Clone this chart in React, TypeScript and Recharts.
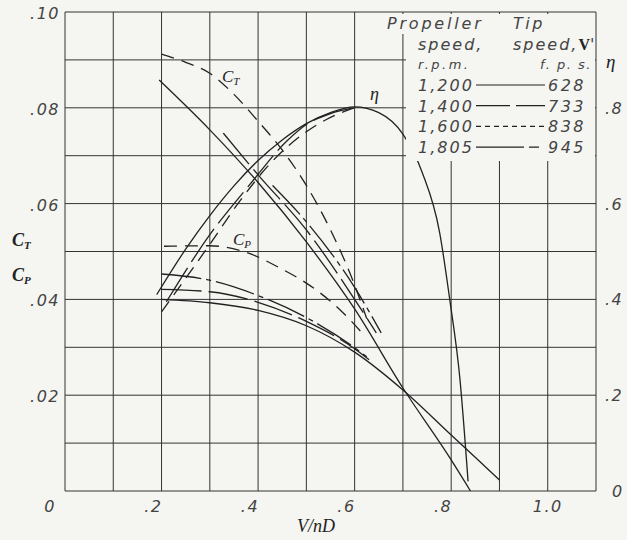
import React from 'react';
import { LineChart, Line, XAxis, YAxis, CartesianGrid } from 'recharts';

// axes
const xTicks = [0, 0.1, 0.2, 0.3, 0.4, 0.5, 0.6, 0.7, 0.8, 0.9, 1.0, 1.1];
const xLabelVals = [0, 0.2, 0.4, 0.6, 0.8, 1.0];
const xLabelText = ['0', '.2', '.4', '.6', '.8', '1.0'];
const coefTicks = [0, 0.01, 0.02, 0.03, 0.04, 0.05, 0.06, 0.07, 0.08, 0.09, 0.1];
const coefLabelVals = [0.02, 0.04, 0.06, 0.08, 0.1];
const coefLabelText = ['.02', '.04', '.06', '.08', '.10'];
const etaTicks = [0, 0.2, 0.4, 0.6, 0.8];
const etaLabelText = ['0', '.2', '.4', '.6', '.8'];

// legend
const rpm = ['1,200', '1,400', '1,600', '1,805'];
const tipSpeed = ['628', '733', '838', '945'];

// thrust coefficient C_T
const ct1200 = [
  { x: 0.195, y: 0.0858 }, { x: 0.3, y: 0.0754 }, { x: 0.4, y: 0.0644 }, { x: 0.5, y: 0.052 },
  { x: 0.6, y: 0.038 }, { x: 0.7, y: 0.0215 }, { x: 0.8, y: 0.0065 }, { x: 0.84, y: 0.0 },
];
const ct1400 = [
  { x: 0.328, y: 0.0747 }, { x: 0.4, y: 0.066 }, { x: 0.5, y: 0.0545 }, { x: 0.6, y: 0.04 }, { x: 0.645, y: 0.033 },
];
const ct1600 = [
  { x: 0.2, y: 0.0912 }, { x: 0.25, y: 0.0895 }, { x: 0.3, y: 0.0872 }, { x: 0.35, y: 0.0828 },
  { x: 0.4, y: 0.0772 }, { x: 0.45, y: 0.0712 }, { x: 0.5, y: 0.0638 }, { x: 0.55, y: 0.0545 },
  { x: 0.6, y: 0.043 }, { x: 0.625, y: 0.036 },
];
const ct1805 = [
  { x: 0.43, y: 0.0638 }, { x: 0.5, y: 0.0562 }, { x: 0.6, y: 0.0425 }, { x: 0.655, y: 0.033 },
];

// power coefficient C_P
const cp1200 = [
  { x: 0.2, y: 0.04 }, { x: 0.3, y: 0.0393 }, { x: 0.4, y: 0.0377 }, { x: 0.5, y: 0.0345 },
  { x: 0.6, y: 0.029 }, { x: 0.7, y: 0.0211 }, { x: 0.8, y: 0.0117 }, { x: 0.9, y: 0.0023 },
];
const cp1400 = [
  { x: 0.2, y: 0.0421 }, { x: 0.3, y: 0.0416 }, { x: 0.4, y: 0.0394 }, { x: 0.5, y: 0.0354 },
  { x: 0.6, y: 0.0297 }, { x: 0.63, y: 0.0274 },
];
const cp1600 = [
  { x: 0.205, y: 0.0511 }, { x: 0.3, y: 0.0512 }, { x: 0.37, y: 0.05 }, { x: 0.45, y: 0.0463 },
  { x: 0.5, y: 0.0434 }, { x: 0.57, y: 0.0378 }, { x: 0.62, y: 0.0325 },
];
const cp1805 = [
  { x: 0.2, y: 0.0453 }, { x: 0.3, y: 0.044 }, { x: 0.4, y: 0.0408 }, { x: 0.5, y: 0.0362 },
  { x: 0.6, y: 0.0299 }, { x: 0.625, y: 0.028 },
];

// efficiency eta
const eta1200 = [
  { x: 0.19, y: 0.41 }, { x: 0.25, y: 0.505 }, { x: 0.3, y: 0.575 }, { x: 0.35, y: 0.637 },
  { x: 0.4, y: 0.69 }, { x: 0.45, y: 0.733 }, { x: 0.5, y: 0.767 }, { x: 0.55, y: 0.79 },
  { x: 0.6, y: 0.802 }, { x: 0.65, y: 0.79 }, { x: 0.7, y: 0.745 }, { x: 0.74, y: 0.665 },
  { x: 0.776, y: 0.54 }, { x: 0.797, y: 0.4 }, { x: 0.818, y: 0.235 }, { x: 0.835, y: 0.02 },
];
const eta1400 = [
  { x: 0.21, y: 0.395 }, { x: 0.3, y: 0.535 }, { x: 0.383, y: 0.64 }, { x: 0.459, y: 0.73 },
  { x: 0.5, y: 0.765 }, { x: 0.55, y: 0.788 }, { x: 0.6, y: 0.8 },
];
const eta1600 = [
  { x: 0.2, y: 0.374 }, { x: 0.3, y: 0.515 }, { x: 0.362, y: 0.605 }, { x: 0.431, y: 0.69 },
  { x: 0.5, y: 0.75 }, { x: 0.55, y: 0.78 }, { x: 0.6, y: 0.8 },
];

const W = 627;
const H = 540;
const PLOT = { top: 12, right: 31, bottom: 49, left: 65 };
const AX = 20; // axis band thickness
const M = { top: PLOT.top, right: PLOT.right - AX, bottom: PLOT.bottom - AX, left: PLOT.left - AX };
const BG = '#f5f5f2';
const INK = '#222';
const TXT = '#444';
const SANS = "'DejaVu Sans', sans-serif";
const SERIF = "'Liberation Serif', 'DejaVu Serif', serif";

const DASH = {
  solid: undefined,
  long: '40 7',
  short: '13 8',
  dashDot: '40 5 5 5',
};

const series = [
  { key: 'ct1200', data: ct1200, axis: 'c', dash: DASH.solid },
  { key: 'ct1400', data: ct1400, axis: 'c', dash: DASH.long },
  { key: 'ct1600', data: ct1600, axis: 'c', dash: DASH.short },
  { key: 'ct1805', data: ct1805, axis: 'c', dash: DASH.dashDot },
  { key: 'cp1200', data: cp1200, axis: 'c', dash: DASH.solid },
  { key: 'cp1400', data: cp1400, axis: 'c', dash: DASH.long },
  { key: 'cp1600', data: cp1600, axis: 'c', dash: DASH.short },
  { key: 'cp1805', data: cp1805, axis: 'c', dash: DASH.dashDot },
  { key: 'eta1200', data: eta1200, axis: 'eta', dash: DASH.solid },
  { key: 'eta1400', data: eta1400, axis: 'eta', dash: DASH.long },
  { key: 'eta1600', data: eta1600, axis: 'eta', dash: DASH.short },
];

const near = (a: number, b: number) => Math.abs(a - b) < 1e-6;
const tickFont = { fontFamily: SANS, fontStyle: 'italic', fontSize: 16, letterSpacing: 1.5, fill: TXT };

function XTick(p: any) {
  const i = xLabelVals.findIndex((v) => near(v, p.payload.value));
  if (i < 0) return <g />;
  const v = xLabelVals[i];
  let x = p.x + 1;
  let anchor = 'end';
  if (v === 0) x = p.x - 9;
  if (v === 1.0) { x = p.x; anchor = 'middle'; }
  return (
    <text x={x} y={H - PLOT.bottom + 21} textAnchor={anchor} {...tickFont}>
      {xLabelText[i]}
    </text>
  );
}

function CoefTick(p: any) {
  const i = coefLabelVals.findIndex((v) => near(v, p.payload.value));
  if (i < 0) return <g />;
  return (
    <text x={PLOT.left - 5} y={p.y + 7} textAnchor="end" {...tickFont}>
      {coefLabelText[i]}
    </text>
  );
}

function EtaTick(p: any) {
  const i = etaTicks.findIndex((v) => near(v, p.payload.value));
  if (i < 0) return <g />;
  const x = W - PLOT.right + (i === 0 ? 16 : 9);
  return (
    <text x={x} y={p.y + 6} textAnchor="start" {...tickFont}>
      {etaLabelText[i]}
    </text>
  );
}

function Overlay() {
  const legendLine = (i: number) => {
    const y = 85 + i * 20.7;
    const dashes = ['', '34 6', '5 4', '48 5 10 50'];
    return (
      <line x1={476} x2={545} y1={y} y2={y} stroke={INK} strokeWidth={1.2} strokeDasharray={dashes[i] || undefined} />
    );
  };
  return (
    <svg width={W} height={H} style={{ position: 'absolute', left: 0, top: 0, pointerEvents: 'none' }}>
      {/* legend panel hides the grid behind it */}
      <rect x={406} y={14} width={189} height={147} fill={BG} />
      <rect x={384} y={14} width={24} height={20} fill={BG} />
      <g fontFamily={SANS} fontStyle="italic" fill={TXT}>
        <text x={387} y={29} fontSize={16} letterSpacing={2.8}>Propeller</text>
        <text x={513} y={29} fontSize={16} letterSpacing={2.5}>Tip</text>
        <text x={418} y={50} fontSize={16} letterSpacing={2}>speed,</text>
        <text x={513} y={50} fontSize={16} letterSpacing={2}>
          speed,
          <tspan fontFamily={SERIF} fontWeight="bold" fontStyle="normal" fill={INK} letterSpacing={0}>V</tspan>
          <tspan>'</tspan>
        </text>
        <text x={418} y={69} fontSize={13} letterSpacing={2.5}>r.p.m.</text>
        <text x={592} y={69} fontSize={13} letterSpacing={1.5} textAnchor="end">f. p. s.</text>
        {rpm.map((r, i) => (
          <text key={r} x={418} y={91 + i * 20.7} fontSize={16} letterSpacing={2}>{r}</text>
        ))}
        {tipSpeed.map((s, i) => (
          <text key={s} x={548} y={91 + i * 20.7} fontSize={16} letterSpacing={2.5}>{s}</text>
        ))}
      </g>
      {[0, 1, 2, 3].map((i) => <g key={i}>{legendLine(i)}</g>)}
      {/* curve labels */}
      <g fontFamily={SERIF} fontStyle="italic" fill={INK}>
        <text x={222} y={82} fontSize={17}>C<tspan fontSize={11} dy={3}>T</tspan></text>
        <text x={233} y={245} fontSize={17}>C<tspan fontSize={11} dy={3}>P</tspan></text>
        <text x={370} y={100} fontSize={18}>η</text>
        <text x={606} y={68} fontSize={19}>η</text>
        <text x={12} y={246} fontSize={18} fontWeight="bold">C<tspan fontSize={11} dy={3}>T</tspan></text>
        <text x={12} y={281} fontSize={18} fontWeight="bold">C<tspan fontSize={11} dy={3}>P</tspan></text>
        <text x={316} y={532} fontSize={18} textAnchor="middle">V/nD</text>
      </g>
    </svg>
  );
}

export default function App() {
  return (
    <div style={{ position: 'absolute', left: 0, top: 0, width: W, height: H, background: BG }}>
      <LineChart width={W} height={H} margin={M}>
        <CartesianGrid stroke="#333" strokeWidth={1} yAxisId="c" />
        <XAxis
          type="number"
          dataKey="x"
          domain={[0, 1.1]}
          ticks={xTicks}
          allowDataOverflow
          height={AX}
          axisLine={false}
          tickLine={false}
          tick={XTick}
          interval={0}
        />
        <YAxis
          yAxisId="c"
          type="number"
          domain={[0, 0.1]}
          ticks={coefTicks}
          allowDataOverflow
          width={AX}
          axisLine={false}
          tickLine={false}
          tick={CoefTick}
          interval={0}
        />
        <YAxis
          yAxisId="eta"
          orientation="right"
          type="number"
          domain={[0, 1]}
          ticks={etaTicks}
          allowDataOverflow
          width={AX}
          axisLine={false}
          tickLine={false}
          tick={EtaTick}
          interval={0}
        />
        {series.map((s) => (
          <Line
            key={s.key}
            data={s.data}
            dataKey="y"
            yAxisId={s.axis}
            type="monotone"
            stroke={INK}
            strokeWidth={1.3}
            strokeDasharray={s.dash}
            dot={false}
            activeDot={false}
            isAnimationActive={false}
          />
        ))}
      </LineChart>
      <Overlay />
    </div>
  );
}
